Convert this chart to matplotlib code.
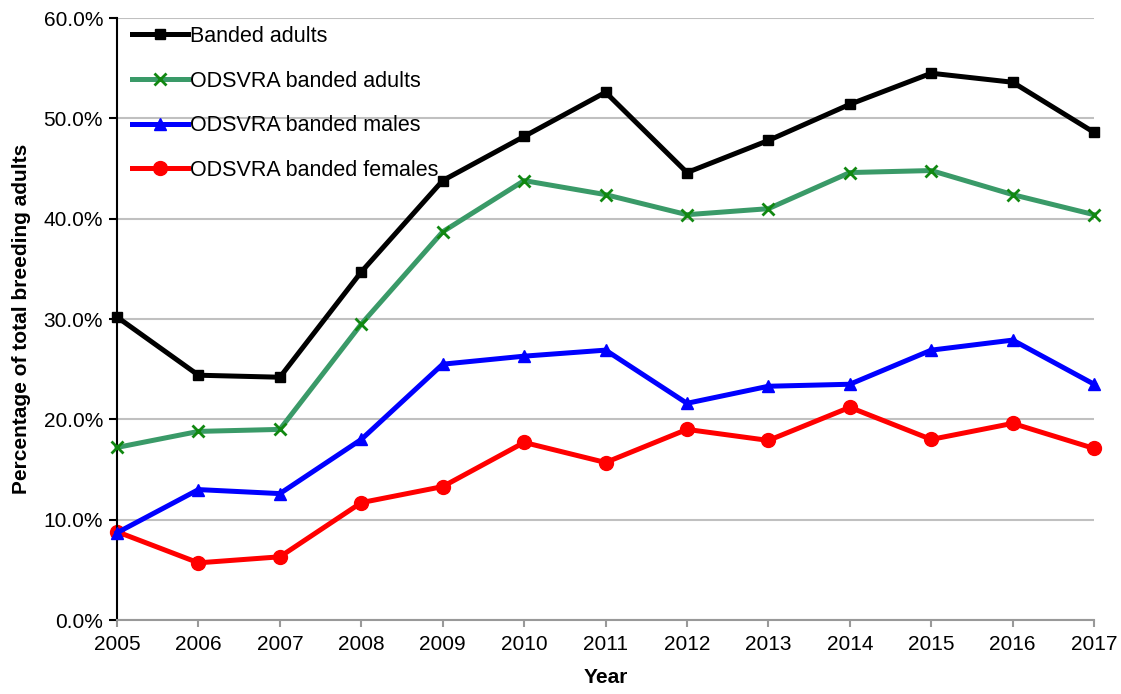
import matplotlib
matplotlib.use("Agg")
import matplotlib.pyplot as plt
from matplotlib.ticker import FuncFormatter

plt.rcParams["font.family"] = ["Liberation Sans", "DejaVu Sans"]

# ── Data ───────────────────────────────────────────────────────────────────────
years = [2005, 2006, 2007, 2008, 2009, 2010, 2011, 2012, 2013, 2014, 2015, 2016, 2017]
banded_adults = [30.2, 24.4, 24.2, 34.7, 43.8, 48.2, 52.6, 44.6, 47.8, 51.4, 54.5, 53.6, 48.6]
odsvra_adults = [17.2, 18.8, 19.0, 29.5, 38.7, 43.8, 42.4, 40.4, 41.0, 44.6, 44.8, 42.4, 40.4]
odsvra_males = [8.7, 13.0, 12.6, 18.0, 25.5, 26.3, 26.9, 21.6, 23.3, 23.5, 26.9, 27.9, 23.5]
odsvra_females = [8.8, 5.7, 6.3, 11.7, 13.3, 17.7, 15.7, 19.0, 17.9, 21.2, 18.0, 19.6, 17.1]

# ── Figure ─────────────────────────────────────────────────────────────────────
fig = plt.figure(figsize=(11.21, 6.94), dpi=100)
ax = fig.add_axes([0.1044, 0.1066, 0.8716, 0.8674])

ax.plot(years, banded_adults, color="black", linewidth=3.6, marker="s",
        markersize=7, label="Banded adults", zorder=5, clip_on=False)
ax.plot(years, odsvra_adults, color="#3a9a68", linewidth=3.6, marker="x",
        markersize=8, markeredgewidth=2, markeredgecolor="#118811",
        label="ODSVRA banded adults", zorder=4, clip_on=False)
ax.plot(years, odsvra_males, color="#0000ff", linewidth=3.6, marker="^",
        markersize=8, label="ODSVRA banded males", zorder=3, clip_on=False)
ax.plot(years, odsvra_females, color="#ff0000", linewidth=3.6, marker="o",
        markersize=10, label="ODSVRA banded females", zorder=2, clip_on=False)

ax.set_xlim(2005, 2017)
ax.set_ylim(0, 60)
ax.set_xticks(years)
ax.set_yticks(range(0, 61, 10))
ax.yaxis.set_major_formatter(FuncFormatter(lambda v, p: f"{v:.1f}%"))
ax.grid(axis="y", color="#c0c0c0", linewidth=1.5)
ax.set_axisbelow(True)

for s in ["top", "right"]:
    ax.spines[s].set_visible(False)
ax.spines["left"].set_color("black")
ax.spines["left"].set_linewidth(1.5)
ax.spines["bottom"].set_color("#999999")
ax.spines["bottom"].set_linewidth(1.5)
ax.tick_params(axis="y", direction="out", length=6, width=1.5, color="black",
               labelsize=15, pad=4)
ax.tick_params(axis="x", direction="out", length=5, width=1.5, color="#999999",
               labelsize=15, pad=6)

ax.set_xlabel("Year", fontsize=15, fontweight="bold", labelpad=10)
ax.set_ylabel("Percentage of total breeding adults", fontsize=15,
              fontweight="bold", labelpad=9)

ax.legend(loc="upper left", frameon=False, fontsize=15.5, handlelength=2.6,
          handletextpad=0.1, labelspacing=1.1, borderaxespad=0.3,
          bbox_to_anchor=(0.0, 1.012))

plt.savefig("out.png", dpi=100)
plt.close()
